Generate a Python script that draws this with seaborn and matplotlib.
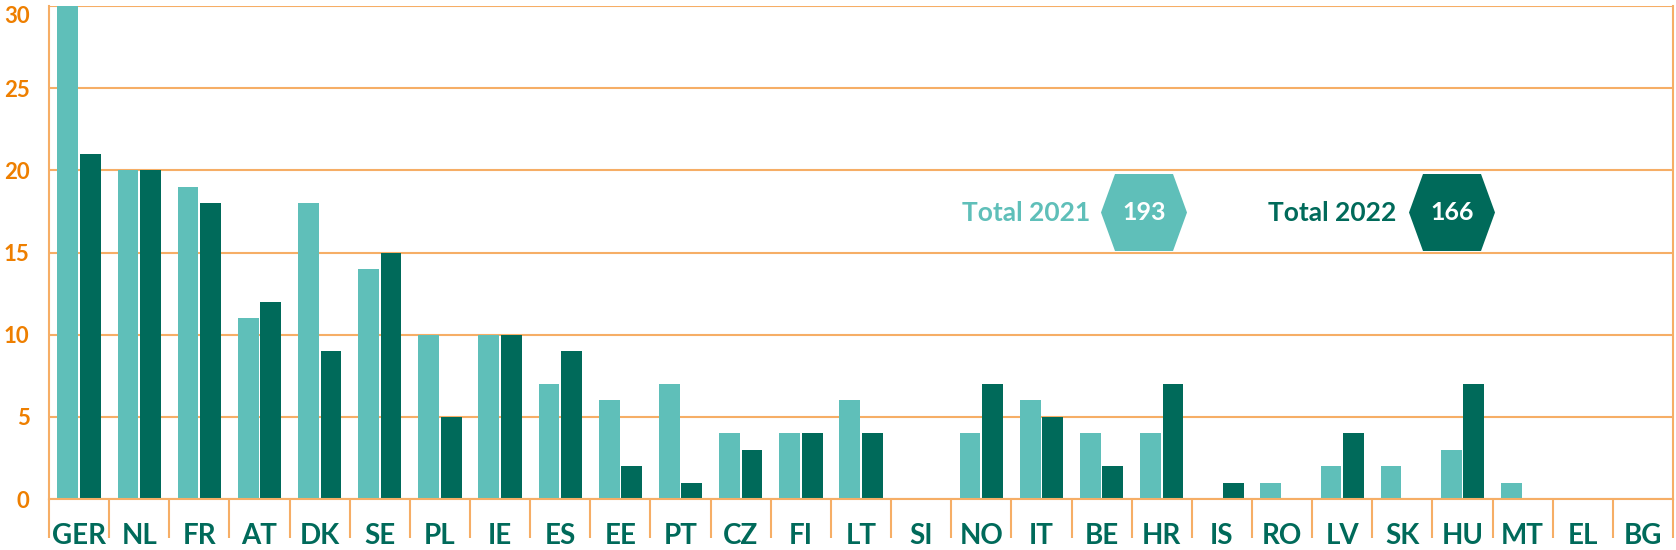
import numpy as np
import pandas as pd
import matplotlib
matplotlib.use("Agg")
import matplotlib.pyplot as plt
import seaborn as sns
from matplotlib.patches import Polygon

countries = ["GER", "NL", "FR", "AT", "DK", "SE", "PL", "IE", "ES", "EE", "PT", "CZ", "FI", "LT",
             "SI", "NO", "IT", "BE", "HR", "IS", "RO", "LV", "SK", "HU", "MT", "EL", "BG"]
values_2021 = [30, 20, 19, 11, 18, 14, 10, 10, 7, 6, 7, 4, 4, 6, 0, 4, 6, 4, 4, 0, 1, 2, 2, 3, 1, 0, 0]
values_2022 = [21, 20, 18, 12, 9, 15, 5, 10, 9, 2, 1, 3, 4, 4, 0, 7, 5, 2, 7, 1, 0, 4, 0, 7, 0, 0, 0]
years = ["2021", "2022"]

TEAL = "#5FBFB9"
DARK = "#006A5A"
GRID = "#F6AE66"
ORANGE = "#EE7F00"

n = len(countries)
df = pd.DataFrame({
    "country": countries * 2,
    "year": [years[0]] * n + [years[1]] * n,
    "value": values_2021 + values_2022,
})

sns.set_style("white")
plt.rcParams["font.family"] = ["Lato", "DejaVu Sans"]

W, H = 1676, 550
fig = plt.figure(figsize=(W / 100, H / 100), dpi=100)
ax = fig.add_axes([49 / W, 1 - 499 / H, (1673 - 49) / W, (499 - 6) / H])

sns.barplot(data=df, x="country", y="value", hue="year", palette=[TEAL, DARK],
            width=0.75, gap=0.08, linewidth=0, saturation=1, legend=False, ax=ax)

ax.set_ylim(0, 30)
ax.set_xlim(-0.5, n - 0.5)
ax.set_yticks(range(0, 31, 5))
ax.yaxis.grid(True, color=GRID, lw=1.5)
ax.set_axisbelow(True)
ax.set_xlabel("")
ax.set_ylabel("")

ax.spines["top"].set_visible(False)
for s in ["left", "right", "bottom"]:
    ax.spines[s].set_color(GRID)
    ax.spines[s].set_linewidth(1.5)

# separators between countries
ax.set_xticks(np.arange(n + 1) - 0.5, minor=True)
ax.tick_params(axis="x", which="minor", bottom=True, length=28, width=1.5, color=GRID,
               direction="out")
ax.tick_params(axis="x", which="major", length=0, pad=17, labelsize=20, labelcolor=DARK)
ax.tick_params(axis="y", length=0, pad=14, labelsize=16, labelcolor=ORANGE)
plt.setp(ax.get_xticklabels(), fontweight="bold")
plt.setp(ax.get_yticklabels(), fontweight="bold")
ax.get_yticklabels()[-1].set_va("top")


def hexagon(x0, x1, y0, y1, inset, color):
    ym = (y0 + y1) / 2
    pts = [(x0, ym), (x0 + inset, y0), (x1 - inset, y0), (x1, ym), (x1 - inset, y1), (x0 + inset, y1)]
    pts = [(x / W, 1 - y / H) for x, y in pts]
    fig.patches.append(Polygon(pts, closed=True, transform=fig.transFigure,
                               facecolor=color, edgecolor="none"))


totals = [sum(values_2021), sum(values_2022)]
legend_spec = [(1090, 1101, 1187, TEAL), (1396, 1409, 1495, DARK)]
for year, total, (tx, hx0, hx1, col) in zip(years, totals, legend_spec):
    fig.text(tx / W, 1 - 213 / H, f"Total {year}", ha="right", va="center",
             fontsize=19, fontweight="bold", color=col)
    hexagon(hx0, hx1, 174, 251, 14, col)
    fig.text((hx0 + hx1) / 2 / W, 1 - 213 / H, str(total), ha="center", va="center",
             fontsize=18, fontweight="bold", color="white")

fig.savefig("out.png", dpi=100)
